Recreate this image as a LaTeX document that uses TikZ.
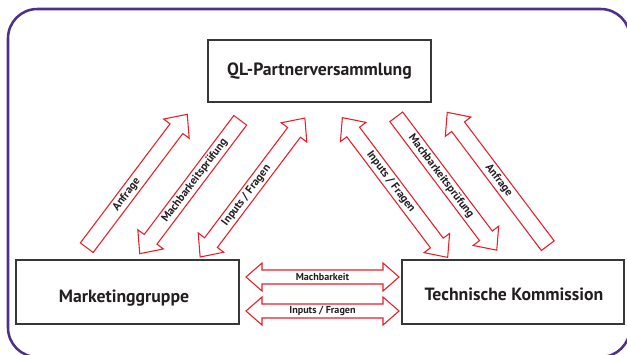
\documentclass[tikz,border=0pt]{standalone}
\usepackage{fontspec}
\setmainfont{PT Sans}
\usetikzlibrary{calc}
\definecolor{arrowred}{RGB}{232,30,40}
\definecolor{textdark}{RGB}{35,31,32}
\definecolor{boxgray}{RGB}{55,55,55}
\definecolor{framepurple}{RGB}{78,48,140}
\begin{document}
\begin{tikzpicture}[x=0.75pt,y=-0.75pt,
  box/.style={draw=boxgray, line width=1.1pt, fill=white, inner sep=0pt},
  arrowline/.style={draw=arrowred, line width=0.8pt, fill=white, line join=miter},
  biglabel/.style={font=\bfseries\fontsize{13.3}{15}\selectfont, text=textdark},
  diaglabel/.style={font=\bfseries\fontsize{8.4}{9}\selectfont, text=textdark, inner sep=0pt},
  hlabel/.style={font=\bfseries\fontsize{7.6}{8}\selectfont, text=textdark, inner sep=0pt},
  pics/onearrow/.style n args={4}{code={
    \path[arrowline] ({(-1)*(#2)*(#1)/2},-8) -- ({(#2)*((#1)/2-18)},-8) -- ({(#2)*((#1)/2-18)},-16)
      -- ({(#2)*(#1)/2},0) -- ({(#2)*((#1)/2-18)},16) -- ({(#2)*((#1)/2-18)},8)
      -- ({(-1)*(#2)*(#1)/2},8) -- cycle;
    \node[diaglabel, transform shape] (-label) at (#3,0) {#4};
  }},
  pics/twoarrow/.style n args={6}{code={
    \path[arrowline] ({-(#1)/2},0) -- ({-(#1)/2+#3},{-(#2)}) -- ({-(#1)/2+#3},{-(#2)/2})
      -- ({(#1)/2-#3},{-(#2)/2}) -- ({(#1)/2-#3},{-(#2)}) -- ({(#1)/2},0)
      -- ({(#1)/2-#3},{#2}) -- ({(#1)/2-#3},{(#2)/2}) -- ({-(#1)/2+#3},{(#2)/2})
      -- ({-(#1)/2+#3},{#2}) -- cycle;
    \node[#4, transform shape] (-label) at (#5,0) {#6};
  }},
]
\useasboundingbox (0,0) rectangle (627,354);
\begin{scope}
\clip (0,0) rectangle (627,354);
\draw[framepurple, line width=1.9pt, rounded corners=22] (8,9) rectangle (630,357);
\end{scope}

% boxes
\node[box, minimum width=223*0.75pt, minimum height=62*0.75pt] (ql) at (319.5,71) {};
\node[biglabel] (qlt) at (ql.center) {QL-Partnerversammlung};
\node[box, minimum width=223*0.75pt, minimum height=64*0.75pt] (mg) at (127.5,292) {};
\node[biglabel] (mgt) at (124,298) {Marketinggruppe};
\node[box, minimum width=222*0.75pt, minimum height=64*0.75pt] (tk) at (513,292) {};
\node[biglabel] (tkt) at (514,294) {Technische Kommission};

% left diagonal arrows
\pic (a1) [rotate=53] at (137,181) {onearrow={167}{1}{-17}{Anfrage}};
\pic (a2) [rotate=53] at (190,187) {onearrow={167}{-1}{8}{Machbarkeitsprüfung}};
\pic (a3) [rotate=53] at (252.5,187.5) {twoarrow={174}{16}{18}{diaglabel}{-10}{Inputs / Fragen}};

% right diagonal arrows
\pic (a4) [rotate=-53] at (395,187.5) {twoarrow={175}{16}{18}{diaglabel}{-7}{Inputs / Fragen}};
\pic (a5) [rotate=-53] at (446.5,183.5) {onearrow={167}{1}{-9}{Machbarkeitsprüfung}};
\pic (a6) [rotate=-53] at (497.5,179) {onearrow={167}{-1}{2}{Anfrage}};

% horizontal arrows
\pic (h1) at (322.5,277) {twoarrow={153}{14}{16}{hlabel}{0}{Machbarkeit}};
\pic (h2) at (322.5,311) {twoarrow={153}{14}{16}{hlabel}{0}{Inputs / Fragen}};
\end{tikzpicture}
\end{document}
